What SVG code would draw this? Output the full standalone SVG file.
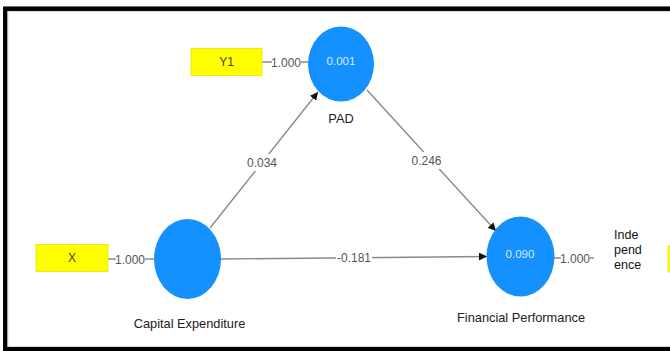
<svg xmlns="http://www.w3.org/2000/svg" width="670" height="351" viewBox="0 0 670 351">
<defs>
<marker id="arr" viewBox="0 0 10 10" refX="10" refY="5" markerWidth="8" markerHeight="8" markerUnits="userSpaceOnUse" orient="auto">
<path d="M0,0 L10,5 L0,10 z" fill="#111"/>
</marker>
</defs>
<style>
.lat{fill:#1590ff}
.ind{fill:#ffff00;stroke:#e6e600;stroke-width:0.8}
.edge{stroke:#8a8a8a;stroke-width:1.4;fill:none}
.elab{font-family:"Liberation Sans",Arial,sans-serif;font-size:12px;fill:#555;text-anchor:middle;dominant-baseline:central}
.val{font-family:"Liberation Sans",Arial,sans-serif;font-size:11.5px;fill:#d6ebff;text-anchor:middle;dominant-baseline:central}
.nlab{font-family:"Liberation Sans",Arial,sans-serif;font-size:12.8px;fill:#222;text-anchor:middle}
.ilab{font-family:"Liberation Sans",Arial,sans-serif;font-size:12px;fill:#444;text-anchor:middle;dominant-baseline:central}
.tlab{font-family:"Liberation Sans",Arial,sans-serif;font-size:12.5px;fill:#111}
.bg{fill:#fff}
</style>
<rect x="0" y="0" width="670" height="351" fill="#fff"/>
<rect x="5.3" y="8.7" width="680" height="340.3" fill="none" stroke="#000" stroke-width="4.5"/>
<rect x="8" y="11.5" width="680" height="335" fill="none" stroke="#d8d8d8" stroke-width="1"/>

<g id="connectors">
<line class="edge" x1="210" y1="228" x2="318" y2="92" marker-end="url(#arr)"/>
<line class="edge" x1="367" y1="90" x2="496" y2="231" marker-end="url(#arr)"/>
<line class="edge" x1="221" y1="259" x2="487" y2="256.5" marker-end="url(#arr)"/>
<line class="edge" x1="262" y1="62" x2="308" y2="62"/>
<line class="edge" x1="108" y1="259" x2="154" y2="259"/>
<line class="edge" x1="554" y1="258" x2="594" y2="258"/>
<rect class="bg" x="246" y="154" width="32" height="17"/>
<text class="elab" x="262" y="162.5">0.034</text>
<rect class="bg" x="410" y="152" width="33" height="17"/>
<text class="elab" x="426.5" y="160.5">0.246</text>
<rect class="bg" x="336" y="250" width="36" height="16"/>
<text class="elab" x="354" y="258">-0.181</text>
<rect class="bg" x="272" y="55" width="29" height="15"/>
<text class="elab" x="286" y="62.5">1.000</text>
<rect class="bg" x="116" y="252" width="29" height="15"/>
<text class="elab" x="130" y="259.5">1.000</text>
<rect class="bg" x="561" y="251" width="29" height="15"/>
<text class="elab" x="575" y="258.5">1.000</text>
</g>

<g id="Y1">
<rect class="ind" x="191" y="48.5" width="71" height="27"/>
<text class="ilab" x="226.5" y="62">Y1</text>
</g>
<g id="X">
<rect class="ind" x="36" y="244.5" width="72" height="27"/>
<text class="ilab" x="72" y="258">X</text>
</g>
<g id="Independence">
<rect class="ind" x="668" y="246" width="20" height="26"/>
<text class="tlab" x="614" y="238.5">Inde</text>
<text class="tlab" x="614" y="254">pend</text>
<text class="tlab" x="614" y="268.5">ence</text>
</g>
<g id="PAD">
<ellipse class="lat" cx="341" cy="64" rx="33" ry="37.5"/>
<text class="val" x="341" y="61">0.001</text>
<text class="nlab" x="341" y="123">PAD</text>
</g>
<g id="CapitalExpenditure">
<ellipse class="lat" cx="187.5" cy="259" rx="33.5" ry="40"/>
<text class="nlab" x="189.5" y="327.5">Capital Expenditure</text>
</g>
<g id="FinancialPerformance">
<ellipse class="lat" cx="520.5" cy="256.5" rx="34" ry="40"/>
<text class="val" x="520" y="254">0.090</text>
<text class="nlab" x="521" y="321.5">Financial Performance</text>
</g>
</svg>
